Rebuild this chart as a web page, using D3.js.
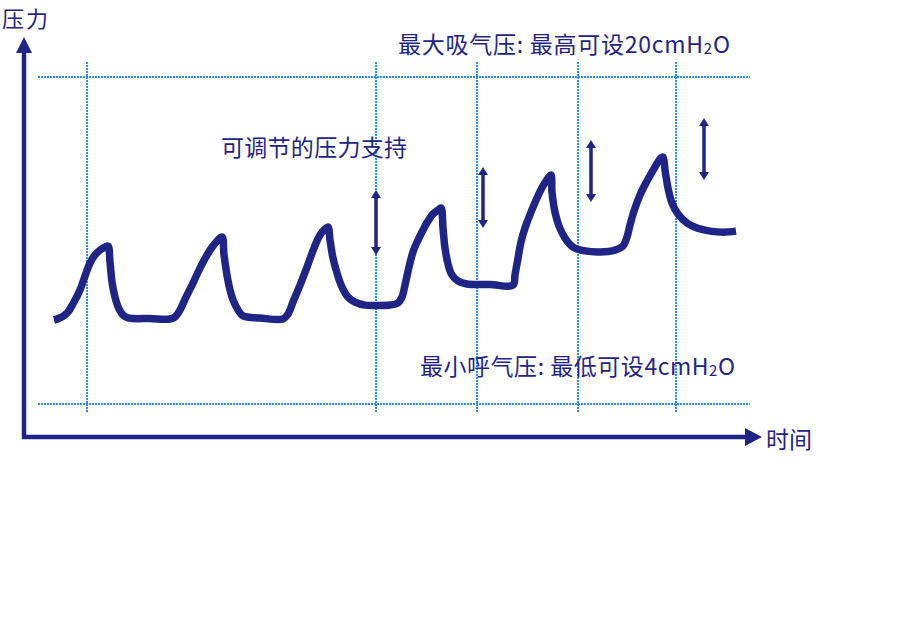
<!DOCTYPE html>
<html>
<head>
<meta charset="utf-8">
<script src="https://cdn.jsdelivr.net/npm/d3@7"></script>
<style>
  body { margin: 0; background: #fff; }
  svg { display: block; font-family: "Noto Sans CJK SC", "Noto Sans", sans-serif; }
</style>
</head>
<body>
<div id="chart"></div>
<script>
// pressure trace: time (s) / pressure (cmH2O)
let times = [1.5, 1.8, 2.15, 2.5, 2.8, 3.05, 3.3, 3.55, 3.8, 4.05, 4.2, 4.3, 4.4, 4.55, 4.75, 4.95, 5.2, 6.3, 7.3,
  7.55, 7.8, 8.1, 8.45, 8.8, 9.3, 9.65, 9.9, 10.0, 10.15, 10.3, 10.45, 10.7, 10.95, 11.8, 12.95,
  13.2, 13.45, 13.8, 14.15, 14.5, 14.8, 15.05, 15.2, 15.3, 15.45, 15.65, 15.9, 16.2, 16.55, 17.05, 17.65, 18.3, 18.7,
  18.9, 19.05, 19.25, 19.45, 19.7, 19.95, 20.2, 20.45, 20.7, 20.85, 20.95, 21.05, 21.2, 21.4, 21.7, 22.15, 23.3, 24.45,
  24.55, 24.7, 24.85, 25.05, 25.35, 25.65, 25.95, 26.25, 26.35, 26.4, 26.55, 26.75, 27.05, 27.45, 28.05, 28.8, 29.55, 29.95,
  30.15, 30.3, 30.5, 30.8, 31.15, 31.55, 31.85, 31.95, 32.05, 32.2, 32.4, 32.7, 33.15, 33.65, 34.3, 35.05, 35.6];
let pressures = [8.11, 8.21, 8.45, 8.99, 9.58, 10.26, 10.90, 11.29, 11.53, 11.68, 11.73, 10.95, 9.97, 9.23, 8.65, 8.35, 8.21, 8.18, 8.16,
  8.26, 8.60, 9.23, 9.92, 10.65, 11.53, 11.97, 12.17, 11.29, 10.31, 9.58, 9.09, 8.60, 8.31, 8.21, 8.16,
  8.40, 8.99, 9.82, 10.70, 11.63, 12.27, 12.56, 12.66, 12.02, 11.14, 10.41, 9.72, 9.23, 8.99, 8.84, 8.82, 8.84, 8.94,
  9.23, 9.82, 10.70, 11.44, 12.02, 12.51, 12.95, 13.30, 13.49, 13.59, 12.61, 11.63, 10.85, 10.31, 10.02, 9.87, 9.85, 9.82,
  10.31, 11.14, 11.93, 12.61, 13.39, 14.08, 14.67, 15.11, 15.20, 14.37, 13.39, 12.71, 12.12, 11.68, 11.49, 11.44, 11.53, 11.73,
  12.17, 12.76, 13.44, 14.23, 14.91, 15.60, 16.04, 16.08, 15.45, 14.57, 13.83, 13.30, 12.86, 12.61, 12.46, 12.41, 12.46];

// reference levels and markers
let maxPressure = 20;
let minPressure = 4;
let gridTimes = [3.15, 17.6, 22.65, 27.7, 32.6];
let arrowTimes = [17.6, 22.95, 28.35, 34.0];
let arrowLows = [11.29, 12.61, 13.88, 14.96];
let arrowHighs = [14.47, 15.6, 16.92, 17.99];

let yLabel = "压力";
let xLabel = "时间";
let supportLabel = "可调节的压力支持";
let maxLabel = ["最大吸气压: 最高可设20cmH", "2", "O"];
let minLabel = ["最小呼气压: 最低可设4cmH", "2", "O"];

const width = 898, height = 620;
const navy = "#1f2586";
const gridBlue = "#2a8ef8";

const svg = d3.select("#chart").append("svg")
  .attr("width", width)
  .attr("height", height);

const x = d3.scaleLinear().domain([0, 37]).range([24, 764]);
const y = d3.scaleLinear().domain([minPressure, maxPressure]).range([404, 77]);
const axisY = 437;

// dotted reference lines
[maxPressure, minPressure].forEach(function (p) {
  svg.append("line")
    .attr("x1", x(0.7)).attr("x2", x(36.3))
    .attr("y1", y(p)).attr("y2", y(p))
    .attr("stroke", gridBlue)
    .attr("stroke-width", 2)
    .attr("stroke-dasharray", "2,1");
});

svg.selectAll(".vgrid")
  .data(gridTimes)
  .enter().append("line")
  .attr("class", "vgrid")
  .attr("x1", d => x(d)).attr("x2", d => x(d))
  .attr("y1", y(maxPressure) - 15).attr("y2", y(minPressure) + 9)
  .attr("stroke", gridBlue)
  .attr("stroke-width", 2)
  .attr("stroke-dasharray", "2,1");

// axes with arrow heads
svg.append("line")
  .attr("x1", x(0)).attr("x2", x(0))
  .attr("y1", axisY + 2).attr("y2", 50)
  .attr("stroke", navy).attr("stroke-width", 4.5);
svg.append("path")
  .attr("d", `M${x(0)},37 L${x(0) + 8},53 L${x(0) - 8},53 Z`)
  .attr("fill", navy);

svg.append("line")
  .attr("x1", x(0) - 2).attr("x2", 748)
  .attr("y1", axisY).attr("y2", axisY)
  .attr("stroke", navy).attr("stroke-width", 4.5);
svg.append("path")
  .attr("d", `M762,${axisY} L745,${axisY - 9} L745,${axisY + 9} Z`)
  .attr("fill", navy);

// pressure trace
const line = d3.line()
  .x(function (d, i) { return x(times[i]) })
  .y(function (d) { return y(d) })
  .curve(d3.curveCatmullRom.alpha(0.5));

svg.append("path")
  .datum(pressures)
  .attr("fill", "none")
  .attr("stroke", navy)
  .attr("stroke-width", 7.5)
  .attr("stroke-linejoin", "round")
  .attr("d", line);

// double headed arrows
arrowTimes.forEach(function (t, i) {
  let ax = x(t), top = y(arrowHighs[i]), bot = y(arrowLows[i]);
  svg.append("line")
    .attr("x1", ax).attr("x2", ax)
    .attr("y1", top + 6).attr("y2", bot - 6)
    .attr("stroke", navy).attr("stroke-width", 3.5);
  svg.append("path")
    .attr("d", `M${ax},${top} L${ax + 5},${top + 8} L${ax - 5},${top + 8} Z`)
    .attr("fill", navy);
  svg.append("path")
    .attr("d", `M${ax},${bot} L${ax + 5},${bot - 8} L${ax - 5},${bot - 8} Z`)
    .attr("fill", navy);
});

// labels
function label(txt, lx, ly, len, size) {
  let t = svg.append("text")
    .attr("x", lx).attr("y", ly)
    .attr("fill", navy)
    .attr("font-size", size || 23)
    .text(txt);
  if (len) t.attr("textLength", len).attr("lengthAdjust", "spacing");
  return t;
}

label(yLabel, 2, 27, 46, 22);
label(xLabel, 766, 448);
label(supportLabel, 221, 156, 186);

function chemLabel(parts, lx, ly, len) {
  let t = svg.append("text")
    .attr("x", lx).attr("y", ly)
    .attr("fill", navy)
    .attr("font-size", 23)
    .attr("textLength", len)
    .attr("lengthAdjust", "spacing");
  t.append("tspan").text(parts[0]);
  t.append("tspan").attr("font-size", 15).attr("dy", 1).text(parts[1]);
  t.append("tspan").attr("dy", -1).text(parts[2]);
}

chemLabel(maxLabel, 398, 53, 332);
chemLabel(minLabel, 420, 375, 315);
</script>
</body>
</html>
